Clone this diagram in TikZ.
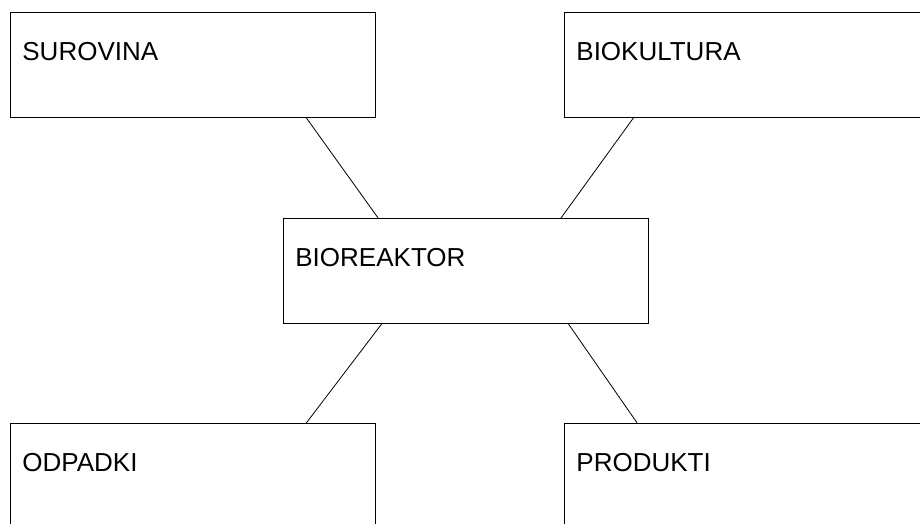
\documentclass[tikz,border=0pt]{standalone}
\usepackage{fontspec}
\setmainfont{Liberation Sans}
\usetikzlibrary{calc}
\tikzset{
mybox/.style={
  draw,
  line width=0.8pt,
  anchor=north west,
  minimum width=365pt,
  minimum height=105pt,
  text width=341pt,
  inner xsep=12pt,
  inner ysep=0pt,
  text height=48pt,
  text depth=57pt,
  align=left,
  font=\fontsize{26}{30}\selectfont
  },
myline/.style={line width=0.8pt}
}

\begin{document}
\begin{tikzpicture}[x=1pt,y=-1pt]

\useasboundingbox (0,0) rectangle (920,524);

\node[mybox] (bio) at (283,218) {BIOREAKTOR};

\node[mybox] (sur) at (10,12) {SUROVINA};
\node[mybox] (kul) at (564,12) {BIOKULTURA};
\node[mybox] (odp) at (10,423) {ODPADKI};
\node[mybox] (pro) at (564,423) {PRODUKTI};


\draw[myline] ($(sur.south west)!0.81!(sur.south east)$) -- ($(bio.north west)!0.26!(bio.north east)$);
\draw[myline] ($(kul.south west)!0.19!(kul.south east)$) -- ($(bio.north west)!0.76!(bio.north east)$);
\draw[myline] ($(odp.north west)!0.81!(odp.north east)$) -- ($(bio.south west)!0.27!(bio.south east)$);
\draw[myline] ($(pro.north west)!0.20!(pro.north east)$) -- ($(bio.south west)!0.78!(bio.south east)$);

\end{tikzpicture}
\end{document}
